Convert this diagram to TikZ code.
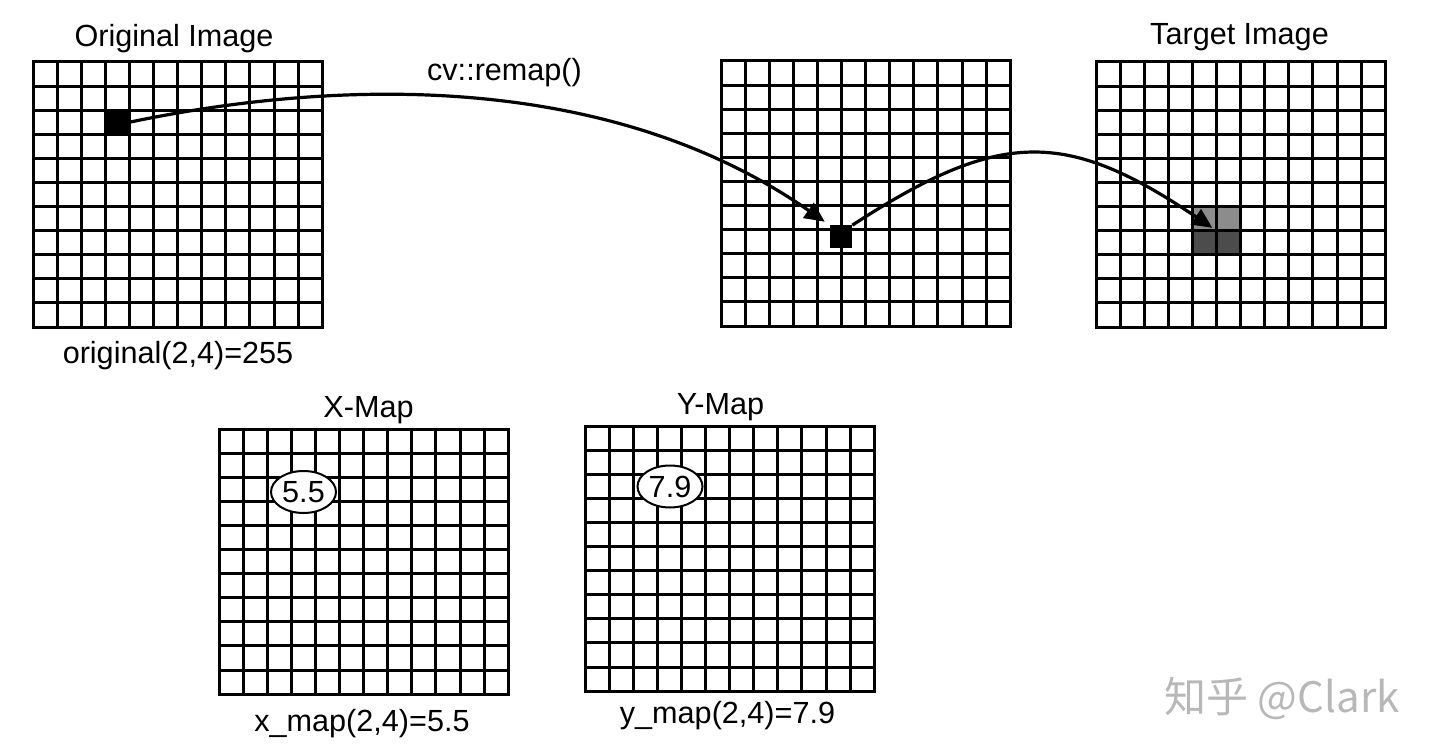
\documentclass[tikz,border=0pt]{standalone}
\usepackage{fontspec}
\setmainfont{Liberation Sans}
\newfontfamily\cjk{Noto Sans CJK SC}
\usetikzlibrary{arrows.meta,shapes.geometric}

\tikzset{
  gridline/.style={line width=1.5pt, line cap=rect},
  pixel/.style={fill=black, inner sep=0pt, outer sep=0pt, minimum size=#1},
  valbox/.style={ellipse, draw, fill=white, line width=1pt, minimum width=32.5pt, minimum height=21pt, inner sep=0pt},
  maparrow/.style={-{Triangle[length=10pt,width=9pt]}, line width=1.6pt}
}

\begin{document}
\begin{tikzpicture}[x=0.5pt,y=-0.5pt,font=\fontsize{15.3}{18}\selectfont]
\useasboundingbox (0,0) rectangle (1440,754);

% interpolated cells of the target
\fill[black!45] (1192.4,206.6) rectangle ++(48.2,24.1);
\fill[black!70] (1192.4,230.7) rectangle ++(48.2,24.1);

% the five 12x11 grids
\foreach \gx/\gy in {33/62,721/61,1096/62,219/429,585/426}{
  \foreach \i in {0,...,12}
    \draw[gridline] ({\gx+\i*24.1},\gy) -- ++(0,265.1);
  \foreach \j in {0,...,11}
    \draw[gridline] (\gx,{\gy+\j*24.1}) -- ++(289.2,0);
}

\node[pixel=12pt] (src) at (117.35,122.25) {};
\node[pixel=11.3pt] (dst) at (841,236.5) {};
\coordinate (tgt) at (1216.5,230.7);

\draw[maparrow, shorten >=3pt] (src.east) .. controls (340,78) and (610,72) .. (dst.north west);
\draw[maparrow, shorten >=2.5pt] (dst.north east) .. controls (1000,129) and (1066,129) .. (tgt);

\node[anchor=base] (origtitle) at (174,47) {Original Image};
\node[anchor=base] (tgttitle) at (1239.5,45) {Target Image};
\node[anchor=base] (remap) at (504.5,81) {cv::remap()};
\node[anchor=base] (origval) at (178,363) {original(2,4)=255};
\node[anchor=base] (xtitle) at (368.5,417) {X-Map};
\node[anchor=base] (ytitle) at (720.5,414) {Y-Map};
\node[anchor=base] (xcap) at (362,731) {x\_map(2,4)=5.5};
\node[anchor=base] (ycap) at (727.5,723) {y\_map(2,4)=7.9};

\node[valbox] (xval) at (303.5,492) {5.5};
\node[valbox] (yval) at (670,486.5) {7.9};

\node[anchor=base, font=\cjk\fontsize{21}{24}\selectfont, text=black!28] (mark) at (1282,712) {知乎 @Clark};
\end{tikzpicture}
\end{document}
